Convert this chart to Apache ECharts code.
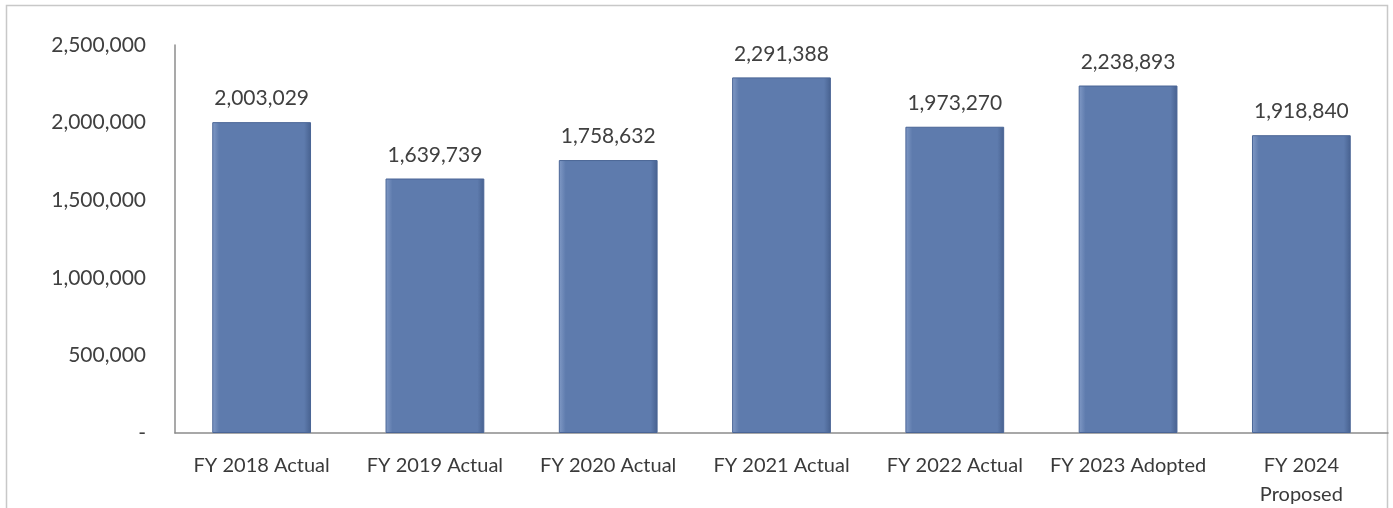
<!DOCTYPE html>
<html><head><meta charset="utf-8">
<script src="https://cdn.jsdelivr.net/npm/echarts@6/dist/echarts.min.js"></script>
<style>html,body{margin:0;padding:0;background:#fff}#c{width:1393px;height:508px}</style>
</head><body><div id="c"></div>
<script>
const categories = ['FY 2018 Actual','FY 2019 Actual','FY 2020 Actual','FY 2021 Actual','FY 2022 Actual','FY 2023 Adopted','FY 2024\nProposed'];
const values = [2003029, 1639739, 1758632, 2291388, 1973270, 2238893, 1918840];
const yTicks = [0, 500000, 1000000, 1500000, 2000000, 2500000];

const fmt = v => v === 0 ? '-' : v.toLocaleString('en-US');
const chart = echarts.init(document.getElementById('c'));
chart.setOption({
  animation: false,
  backgroundColor: '#fff',
  textStyle: { fontFamily: 'Lato' },
  graphic: [{ type: 'rect', shape: { x: 6.5, y: 5.5, width: 1381, height: 520 }, style: { fill: 'none', stroke: '#c8c8c8', lineWidth: 1.5 }, silent: true }],
  grid: { left: 175, right: 5, top: 45, bottom: 75, containLabel: false, outerBoundsMode: 'none' },
  xAxis: {
    type: 'category', data: categories,
    axisLine: { lineStyle: { color: '#8c8c8c', width: 1.5 } },
    axisTick: { show: false },
    axisLabel: { color: '#3a3a3a', fontSize: 20, margin: 18, lineHeight: 29, interval: 0 }
  },
  yAxis: {
    type: 'value', min: 0, max: 2500000, interval: 500000,
    axisLine: { show: true, lineStyle: { color: '#8c8c8c', width: 1.5 } },
    axisTick: { show: false },
    splitLine: { show: false },
    axisLabel: { color: '#404040', fontSize: 21, margin: 29, formatter: fmt }
  },
  series: [{
    type: 'bar', data: values, barWidth: '57%',
    itemStyle: {
      color: { type: 'linear', x: 0, y: 0, x2: 1, y2: 0, colorStops: [
        { offset: 0, color: '#819ac6' }, { offset: 0.07, color: '#5e7bad' },
        { offset: 0.93, color: '#5e7bad' }, { offset: 1, color: '#47618f' }] },
      borderColor: '#4a6596', borderWidth: 1
    },
    label: { show: true, position: 'top', distance: 13, color: '#404040', fontSize: 21, formatter: p => fmt(p.value) }
  }]
});
</script></body></html>
